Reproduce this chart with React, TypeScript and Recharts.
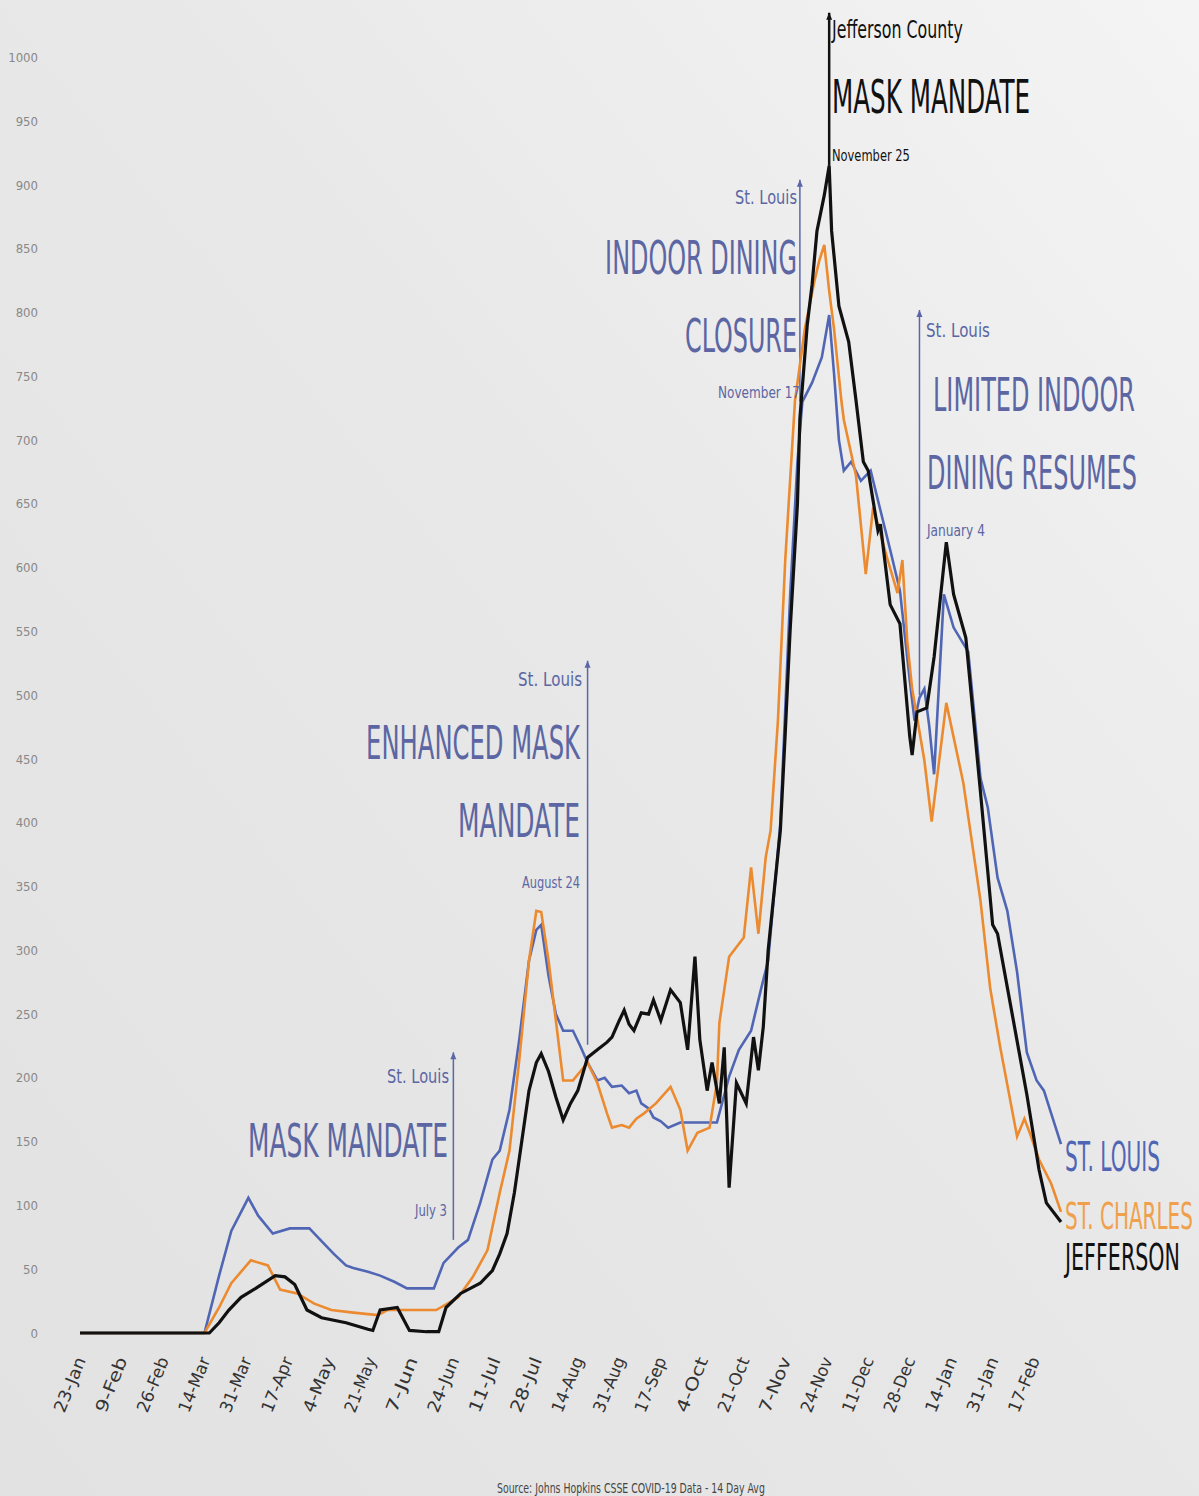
import React from "react";
import {
  LineChart,
  Line,
  XAxis,
  YAxis,
  ReferenceLine,
} from "recharts";

// x = days since 23-Jan, y = cases (14 day avg)
const tickDays = [0, 17, 34, 51, 68, 85, 102, 119, 136, 153, 170, 187, 204, 221, 238, 255, 272, 289, 306, 323, 340, 357, 374, 391];
const tickLabels = ["23-Jan", "9-Feb", "26-Feb", "14-Mar", "31-Mar", "17-Apr", "4-May", "21-May", "7-Jun", "24-Jun", "11-Jul", "28-Jul", "14-Aug", "31-Aug", "17-Sep", "4-Oct", "21-Oct", "7-Nov", "24-Nov", "11-Dec", "28-Dec", "14-Jan", "31-Jan", "17-Feb"];
const yTicks = [0, 50, 100, 150, 200, 250, 300, 350, 400, 450, 500, 550, 600, 650, 700, 750, 800, 850, 900, 950, 1000];

const stLouis: [number, number][] = [
  [0, 0], [51, 0], [57, 45], [62, 80], [69, 106], [73, 92], [79, 78], [86, 82], [94, 82], [98, 74],
  [104, 62], [109, 53], [112, 51], [118, 48], [123, 45], [129, 40], [134, 35], [140, 35], [145, 35], [149, 55],
  [155, 67], [159, 73], [164, 102], [169, 136], [172, 143], [176, 175], [180, 230], [184, 292], [187, 316], [189, 320],
  [192, 280], [195, 250], [198, 237], [202, 237], [205, 225], [208, 212], [212, 198], [215, 200], [218, 193], [222, 194],
  [225, 188], [228, 190], [230, 180], [233, 176], [235, 169], [238, 166], [241, 161], [246, 165], [251, 165], [257, 165],
  [261, 165], [266, 201], [270, 222], [275, 237], [279, 269], [282, 292], [287, 400], [291, 578], [294, 683], [296, 730],
  [300, 745], [304, 765], [307, 798], [309, 752], [311, 700], [313, 676], [316, 683], [320, 668], [324, 676], [328, 645],
  [332, 614], [336, 582], [340, 512], [342, 480], [344, 498], [346, 505], [348, 476], [350, 438], [354, 579], [358, 553],
  [364, 534], [369, 435], [372, 412], [376, 357], [380, 331], [384, 283], [388, 220], [392, 198], [395, 190], [398, 172],
  [402, 148],
];

const stCharles: [number, number][] = [
  [0, 0], [51, 0], [57, 20], [62, 39], [70, 57], [77, 53], [82, 34], [89, 31], [96, 23], [103, 18],
  [112, 16], [122, 14], [126, 18], [137, 18], [146, 18], [155, 28], [161, 44], [167, 65], [172, 110], [176, 143],
  [180, 214], [184, 292], [187, 331], [189, 330], [192, 292], [195, 245], [198, 198], [202, 198], [205, 205], [208, 212],
  [212, 196], [216, 172], [218, 161], [222, 163], [225, 161], [228, 168], [231, 172], [236, 180], [242, 193], [246, 175],
  [249, 143], [253, 157], [258, 161], [261, 196], [262, 243], [266, 295], [272, 310], [275, 365], [278, 313], [281, 373],
  [283, 394], [286, 480], [289, 606], [293, 731], [297, 787], [301, 825], [303, 841], [305, 853], [307, 817], [309, 787],
  [312, 731], [313, 716], [318, 672], [322, 595], [325, 647], [331, 606], [335, 580], [337, 606], [339, 542], [341, 505],
  [346, 449], [349, 401], [355, 494], [362, 431], [369, 339], [373, 270], [377, 225], [384, 154], [387, 168], [389, 158],
  [393, 136], [398, 117], [402, 95],
];

const jefferson: [number, number][] = [
  [0, 0], [53, 0], [57, 8], [61, 18], [66, 28], [72, 35], [80, 45], [84, 44], [88, 38], [93, 18],
  [99, 12], [109, 8], [118, 3], [120, 2], [123, 18], [130, 20], [135, 2], [142, 1], [147, 1], [150, 20],
  [156, 31], [164, 39], [169, 49], [172, 62], [175, 78], [178, 110], [181, 150], [184, 190], [187, 212], [189, 219],
  [192, 205], [195, 185], [198, 167], [201, 180], [204, 190], [208, 216], [212, 222], [216, 228], [218, 232], [221, 245],
  [223, 253], [225, 242], [227, 237], [230, 251], [233, 250], [235, 261], [238, 245], [242, 269], [246, 259], [249, 222],
  [252, 295], [254, 230], [257, 190], [259, 212], [262, 180], [264, 224], [266, 114], [269, 196], [273, 180], [276, 232],
  [278, 206], [280, 240], [282, 300], [287, 394], [289, 470], [291, 551], [294, 650], [295, 717], [298, 790], [300, 822],
  [302, 864], [305, 892], [307, 915], [308, 864], [311, 805], [315, 777], [318, 731], [321, 683], [323, 676], [327, 629],
  [328, 634], [332, 571], [336, 556], [340, 468], [341, 453], [343, 487], [347, 490], [350, 530], [355, 620], [358, 579],
  [363, 545], [369, 424], [374, 320], [376, 313], [382, 250], [388, 187], [393, 128], [396, 102], [402, 87],
];

// event markers: day, bottom value, top value
const events = [
  { day: 153, from: 73, to: 220, color: "#5b66a8" },
  { day: 208, from: 226, to: 527, color: "#5b66a8" },
  { day: 295, from: 730, to: 904, color: "#5b66a8" },
  { day: 307, from: 915, to: 1035, color: "#111111" },
  { day: 344, from: 500, to: 802, color: "#5b66a8" },
];

const BLUE = "#5066b4";
const ORANGE = "#ec8a2f";
const BLACK = "#111111";
const ANN = "#5b66a3";
const NARROW = "'Liberation Sans Narrow', 'DejaVu Sans Condensed', 'Open Sans', sans-serif";

const toPoints = (s: [number, number][]) => s.map(([day, value]) => ({ day, value }));

let ctx: CanvasRenderingContext2D | null = null;
const measure = (t: string, size: number) => {
  if (!ctx) ctx = document.createElement("canvas").getContext("2d");
  if (!ctx) return t.length * size * 0.5;
  ctx.font = `${size}px ${NARROW}`;
  return ctx.measureText(t).width || t.length * size * 0.5;
};

// text squeezed to a given width
const FitText = ({ t, x, y, w, s, c, a }: any) => {
  const k = w / measure(t, s);
  return (
    <text
      transform={`translate(${x},${y}) scale(${k},1)`}
      textAnchor={a}
      fontFamily={NARROW}
      fontSize={s}
      fill={c}
    >
      {t}
    </text>
  );
};

const XTick = (props: any) => {
  const { x, payload } = props;
  const i = tickDays.indexOf(payload.value);
  return (
    <g transform={`translate(${x + 6},${1360}) rotate(-68)`}>
      <FitText t={tickLabels[i]} x={0} y={0} w={58} s={17} c="#333" a="end" />
    </g>
  );
};

const YTick = (props: any) => {
  const { y, payload } = props;
  return (
    <text x={38} y={y} dy="0.35em" textAnchor="end" fontFamily={NARROW} fontSize={13} fill="#888">
      {payload.value}
    </text>
  );
};

const EventLine = (props: any) => {
  const { x1, y1, x2, y2, stroke } = props;
  if (x1 == null) return null;
  const top = Math.min(y1, y2);
  const bottom = Math.max(y1, y2);
  return (
    <g>
      <line x1={x1} x2={x2} y1={top} y2={bottom} stroke={stroke} strokeWidth={stroke === BLACK ? 2.5 : 1.5} />
      <path d={`M${x1 - 3},${top + 7} L${x1},${top} L${x1 + 3},${top + 7} Z`} fill={stroke} />
    </g>
  );
};

type T = { t: string; x: number; y: number; w: number; s: number; c: string; a?: "start" | "end" };

const texts: T[] = [
  // St. Louis mask mandate
  { t: "St. Louis", x: 449, y: 1083, w: 62, s: 20, c: ANN, a: "end" },
  { t: "MASK MANDATE", x: 448, y: 1157, w: 200, s: 46, c: ANN, a: "end" },
  { t: "July 3", x: 447, y: 1216, w: 32, s: 15, c: ANN, a: "end" },
  // enhanced
  { t: "St. Louis", x: 582, y: 686, w: 64, s: 20, c: ANN, a: "end" },
  { t: "ENHANCED MASK", x: 580, y: 759, w: 214, s: 46, c: ANN, a: "end" },
  { t: "MANDATE", x: 580, y: 837, w: 122, s: 46, c: ANN, a: "end" },
  { t: "August 24", x: 580, y: 888, w: 58, s: 15, c: ANN, a: "end" },
  // indoor dining
  { t: "St. Louis", x: 797, y: 204, w: 62, s: 20, c: ANN, a: "end" },
  { t: "INDOOR DINING", x: 797, y: 274, w: 192, s: 46, c: ANN, a: "end" },
  { t: "CLOSURE", x: 797, y: 352, w: 112, s: 46, c: ANN, a: "end" },
  { t: "November 17", x: 800, y: 398, w: 82, s: 15, c: ANN, a: "end" },
  // Jefferson
  { t: "Jefferson County", x: 832, y: 38, w: 131, s: 24, c: BLACK, a: "start" },
  { t: "MASK MANDATE", x: 832, y: 113, w: 198, s: 46, c: BLACK, a: "start" },
  { t: "November 25", x: 832, y: 161, w: 78, s: 15, c: BLACK, a: "start" },
  // limited indoor dining
  { t: "St. Louis", x: 926, y: 337, w: 64, s: 20, c: ANN, a: "start" },
  { t: "LIMITED INDOOR", x: 933, y: 411, w: 202, s: 46, c: ANN, a: "start" },
  { t: "DINING RESUMES", x: 927, y: 489, w: 210, s: 46, c: ANN, a: "start" },
  { t: "January 4", x: 927, y: 536, w: 58, s: 15, c: ANN, a: "start" },
  // series names
  { t: "ST. LOUIS", x: 1065, y: 1171, w: 95, s: 40, c: BLUE, a: "start" },
  { t: "ST. CHARLES", x: 1065, y: 1229, w: 128, s: 38, c: "#f0a04a", a: "start" },
  { t: "JEFFERSON", x: 1065, y: 1270, w: 115, s: 38, c: BLACK, a: "start" },
  // source
  { t: "Source: Johns Hopkins CSSE COVID-19 Data - 14 Day Avg", x: 497, y: 1493, w: 268, s: 14, c: "#444", a: "start" },
];

export default function App() {
  return (
    <div
      style={{
        position: "absolute",
        left: 0,
        top: 0,
        width: 1199,
        height: 1496,
        background: "linear-gradient(to bottom left, #f4f4f4 0%, #e8e8e8 45%, #e2e2e2 100%)",
      }}
    >
      <LineChart
        width={1199}
        height={1496}
        margin={{ top: 0, right: 138, left: 30, bottom: 0 }}
      >
        <XAxis
          dataKey="day"
          type="number"
          domain={[0, 402]}
          ticks={tickDays}
          interval={0}
          axisLine={false}
          tickLine={false}
          height={163}
          tick={<XTick />}
        />
        <YAxis
          type="number"
          domain={[0, 1045]}
          ticks={yTicks}
          interval={0}
          axisLine={false}
          tickLine={false}
          width={50}
          tick={<YTick />}
        />
        {events.map((e) => (
          <ReferenceLine
            key={e.day}
            segment={[{ x: e.day, y: e.from }, { x: e.day, y: e.to }]}
            stroke={e.color}
            shape={<EventLine />}
          />
        ))}
        <Line data={toPoints(stLouis)} dataKey="value" type="linear" stroke={BLUE} strokeWidth={2.6} dot={false} isAnimationActive={false} />
        <Line data={toPoints(stCharles)} dataKey="value" type="linear" stroke={ORANGE} strokeWidth={2.6} dot={false} isAnimationActive={false} />
        <Line data={toPoints(jefferson)} dataKey="value" type="linear" stroke={BLACK} strokeWidth={3.2} dot={false} isAnimationActive={false} />
      </LineChart>
      <svg width={1199} height={1496} style={{ position: "absolute", left: 0, top: 0, pointerEvents: "none" }}>
        {texts.map((d, i) => (
          <FitText key={i} {...d} />
        ))}
      </svg>
    </div>
  );
}
